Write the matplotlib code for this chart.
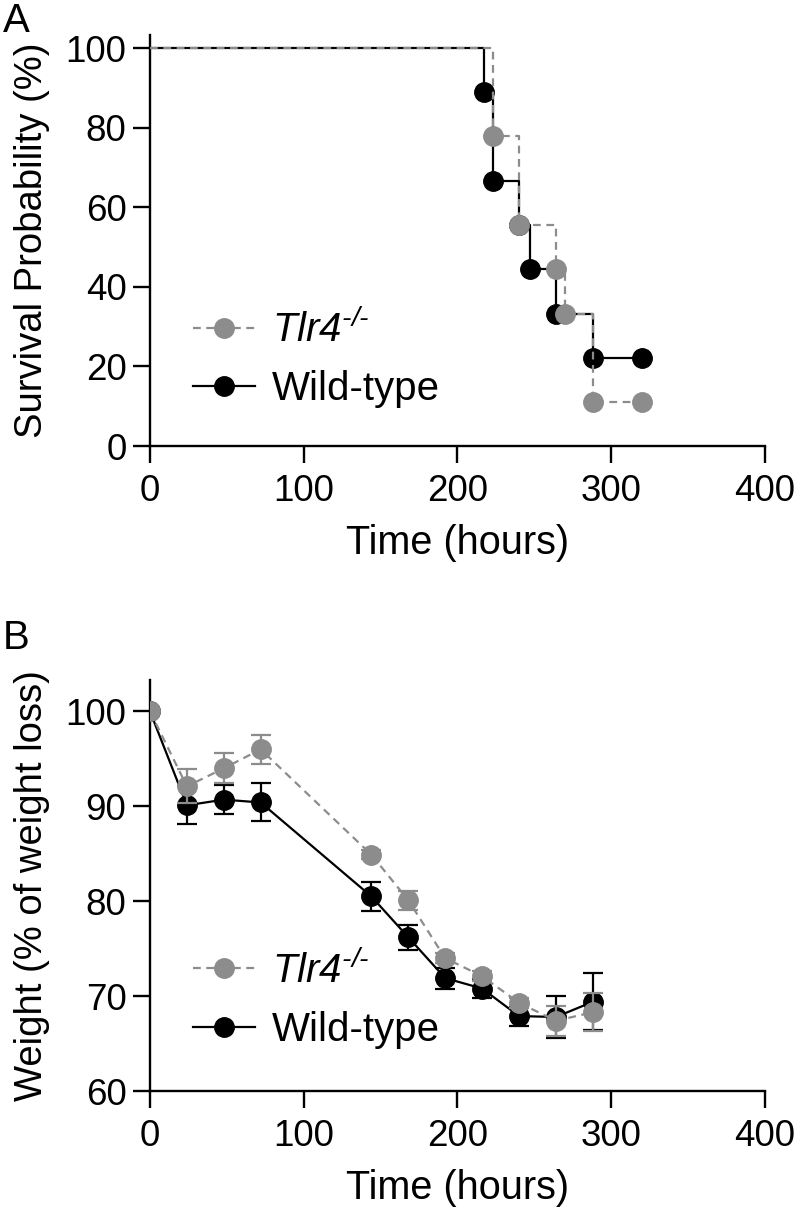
import matplotlib
matplotlib.use("Agg")
import matplotlib.pyplot as plt

plt.rcParams['font.family'] = ['Liberation Sans', 'DejaVu Sans']
plt.rcParams['mathtext.fontset'] = 'custom'
plt.rcParams['mathtext.rm'] = 'Liberation Sans:italic'
plt.rcParams['mathtext.it'] = 'Liberation Sans:italic'

# panel A: Kaplan-Meier survival (%)
wt_time = [0, 217, 223, 240, 247, 264, 288, 320]
wt_surv = [100, 88.9, 66.7, 55.6, 44.4, 33.3, 22.2, 22.2]
ko_time = [0, 223, 240, 264, 270, 288, 320]
ko_surv = [100, 77.8, 55.6, 44.4, 33.3, 11.1, 11.1]

# panel B: body weight (% of initial) with SEM
days_h = [0, 24, 48, 72, 144, 168, 192, 216, 240, 264, 288]
wt_weight = [100, 90.1, 90.7, 90.4, 80.5, 76.2, 71.9, 70.8, 67.9, 67.8, 69.4]
wt_err = [0, 2.0, 1.5, 2.0, 1.5, 1.3, 1.1, 1.0, 1.0, 2.2, 3.0]
ko_weight = [100, 92.1, 94.0, 96.0, 84.9, 80.1, 74.0, 72.1, 69.3, 67.4, 68.3]
ko_err = [0, 1.8, 1.6, 1.5, 0.5, 1.0, 0.5, 0.5, 0.5, 1.6, 2.0]

ko_label = r'$Tlr4^{\text{-/-}}$'
gray = '#8c8c8c'
fs_tick = 26.5
fs_xlab = 28.5
fs_ylab = 27.5
fs_leg = 29

fig = plt.figure(figsize=(7.97, 12.2), dpi=100)
axA = fig.add_axes([0.1882, 0.6344, 0.7716, 0.3369])
axB = fig.add_axes([0.1882, 0.1057, 0.7716, 0.3369])

def style(ax):
    for s in ['top', 'right']:
        ax.spines[s].set_visible(False)
    for s in ['left', 'bottom']:
        ax.spines[s].set_linewidth(1.7)
    ax.tick_params(direction='out', length=12, width=1.7, labelsize=fs_tick, pad=5)
    ax.tick_params(axis='x', pad=8)

# A
axA.plot(wt_time, wt_surv, drawstyle='steps-post', color='black', lw=1.6, zorder=2)
axA.plot(wt_time[1:], wt_surv[1:], 'o', color='black', ms=14, zorder=3)
axA.plot(ko_time, ko_surv, drawstyle='steps-post', color=gray, lw=1.6, ls=(0, (3.5, 2.5)), zorder=4)
axA.plot(ko_time[1:], ko_surv[1:], 'o', color=gray, ms=14, zorder=5)
axA.set_xlim(0, 400)
axA.set_ylim(0, 103.3)
axA.set_xticks([0, 100, 200, 300, 400])
axA.set_yticks([0, 20, 40, 60, 80, 100])
axA.set_xlabel('Time (hours)', fontsize=fs_xlab, labelpad=11)
axA.set_ylabel('Survival Probability (%)', fontsize=fs_ylab, labelpad=11)
style(axA)
hk, = axA.plot([], [], 'o', color=gray, ms=14, lw=1.6, ls=(0, (3.5, 2.5)))
hw, = axA.plot([], [], 'o-', color='black', ms=14, lw=1.6)
axA.legend([hk, hw], [ko_label, 'Wild-type'], loc='center left', bbox_to_anchor=(0.07, 0.213),
           frameon=False, fontsize=fs_leg, borderpad=0, borderaxespad=0,
           handlelength=1.55, handletextpad=0.4, labelspacing=0.5)

# B
axB.errorbar(days_h, wt_weight, yerr=wt_err, fmt='o-', color='black', ms=14, lw=1.6,
             elinewidth=1.6, capsize=7, capthick=1.6, zorder=2)
axB.errorbar(days_h, ko_weight, yerr=ko_err, fmt='o', ls=(0, (3.5, 2.5)), color=gray, ms=14, lw=1.6,
             elinewidth=1.6, capsize=7, capthick=1.6, zorder=3)
axB.set_xlim(0, 400)
axB.set_ylim(60, 103.3)
axB.set_xticks([0, 100, 200, 300, 400])
axB.set_yticks([60, 70, 80, 90, 100])
axB.set_xlabel('Time (hours)', fontsize=fs_xlab, labelpad=11)
axB.set_ylabel('Weight (% of weight loss)', fontsize=fs_ylab, labelpad=11)
style(axB)
axB.legend([hk, hw], [ko_label, 'Wild-type'], loc='center left', bbox_to_anchor=(0.07, 0.223),
           frameon=False, fontsize=fs_leg, borderpad=0, borderaxespad=0,
           handlelength=1.55, handletextpad=0.4, labelspacing=0.5)

fig.text(0.004, 0.998, 'A', fontsize=fs_leg, va='top', ha='left')
fig.text(0.004, 0.493, 'B', fontsize=fs_leg, va='top', ha='left')

fig.savefig('out.png', dpi=100)
